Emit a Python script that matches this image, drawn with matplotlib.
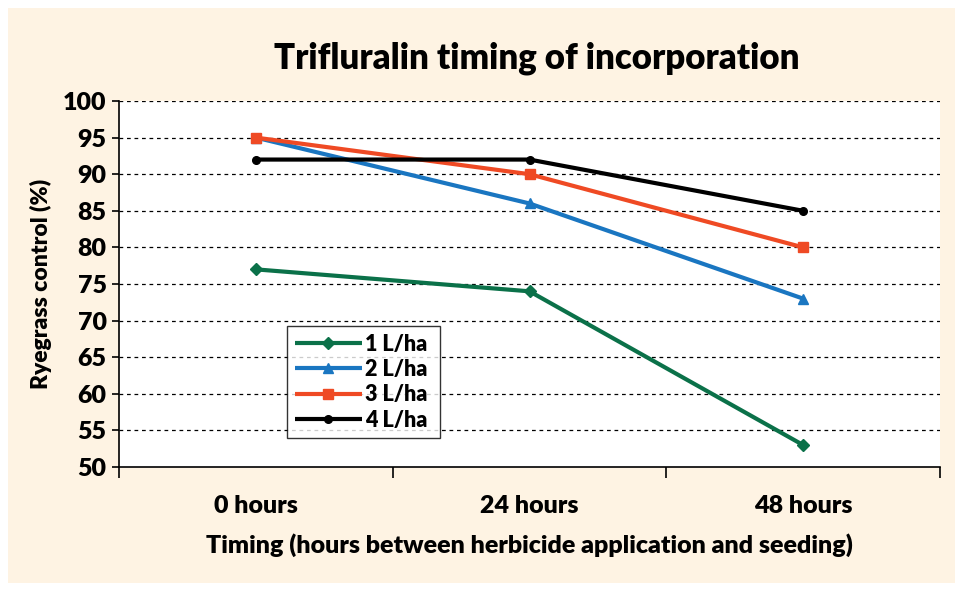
import matplotlib
matplotlib.use("Agg")
import matplotlib.pyplot as plt
from matplotlib.patches import Rectangle

categories = ["0 hours", "24 hours", "48 hours"]
series_names = ["1 L/ha", "2 L/ha", "3 L/ha", "4 L/ha"]
s1 = [77, 74, 53]
s2 = [95, 86, 73]
s3 = [95, 90, 80]
s4 = [92, 92, 85]
yticks = list(range(50, 101, 5))

colors = ["#0B7149", "#1A76C1", "#EF4A24", "#000000"]
markers = ["D", "^", "s", "o"]
msizes = [6, 7, 6.5, 5.5]

W = 'heavy'
plt.rcParams['font.family'] = ['Lato', 'DejaVu Sans']
plt.rcParams['font.weight'] = W

fig = plt.figure(figsize=(9.63, 5.91), dpi=100)
fig.patch.set_facecolor("white")
fig.patches.append(Rectangle((8/963, 8/591), 947/963, 575/591, transform=fig.transFigure,
                             facecolor="#FEF3E3", edgecolor="none", zorder=-10))

ax = fig.add_axes([119/963, 1-467/591, 821/963, 366/591])
ax.set_facecolor("white")
x = list(range(len(categories)))
for vals, name, c, m, ms in zip([s1, s2, s3, s4], series_names, colors, markers, msizes):
    ax.plot(x, vals, color=c, lw=3, marker=m, ms=ms, label=name, solid_capstyle='butt')

ax.set_xlim(-0.5, 2.5)
ax.set_ylim(50, 100)
ax.set_yticks(yticks)
ax.set_yticklabels([str(v) for v in yticks], fontsize=18, fontweight=W)
ax.set_xticks(x)
ax.set_xticklabels(categories, fontsize=18, fontweight=W)
ax.tick_params(axis='x', length=0, pad=20)
ax.set_xticks([-0.5, 0.5, 1.5, 2.5], minor=True)
ax.tick_params(axis='x', which='minor', length=8, width=1.2, direction='out')
ax.tick_params(axis='y', length=5, width=1.2, direction='out', pad=4)
for yv in yticks[1:]:
    ax.axhline(yv, color='black', lw=0.9, ls=(0, (3, 3)), zorder=0)
ax.spines['top'].set_visible(False)
ax.spines['right'].set_visible(False)
ax.spines['left'].set_linewidth(1.2)
ax.spines['bottom'].set_linewidth(1.2)

ax.set_ylabel("Ryegrass control (%)", fontsize=16.5, fontweight=W, labelpad=8)
ax.set_xlabel("Timing (hours between herbicide application and seeding)", fontsize=18,
              fontweight=W, labelpad=12)
fig.text(537/963, 1-58/591, "Trifluralin timing of incorporation", ha='center', va='center',
         fontsize=25, fontweight=W)

leg = ax.legend(loc='lower left', bbox_to_anchor=(0.205, 0.079, 0.186, 0.279), mode='expand',
                frameon=True, fancybox=False, edgecolor='black', fontsize=15.5,
                handlelength=3.1, labelspacing=0.2, borderpad=0.35, handletextpad=0.15,
                borderaxespad=0)
leg.get_frame().set_linewidth(1.0)
for t in leg.get_texts():
    t.set_fontweight(W)

fig.savefig("out.png", dpi=100)
